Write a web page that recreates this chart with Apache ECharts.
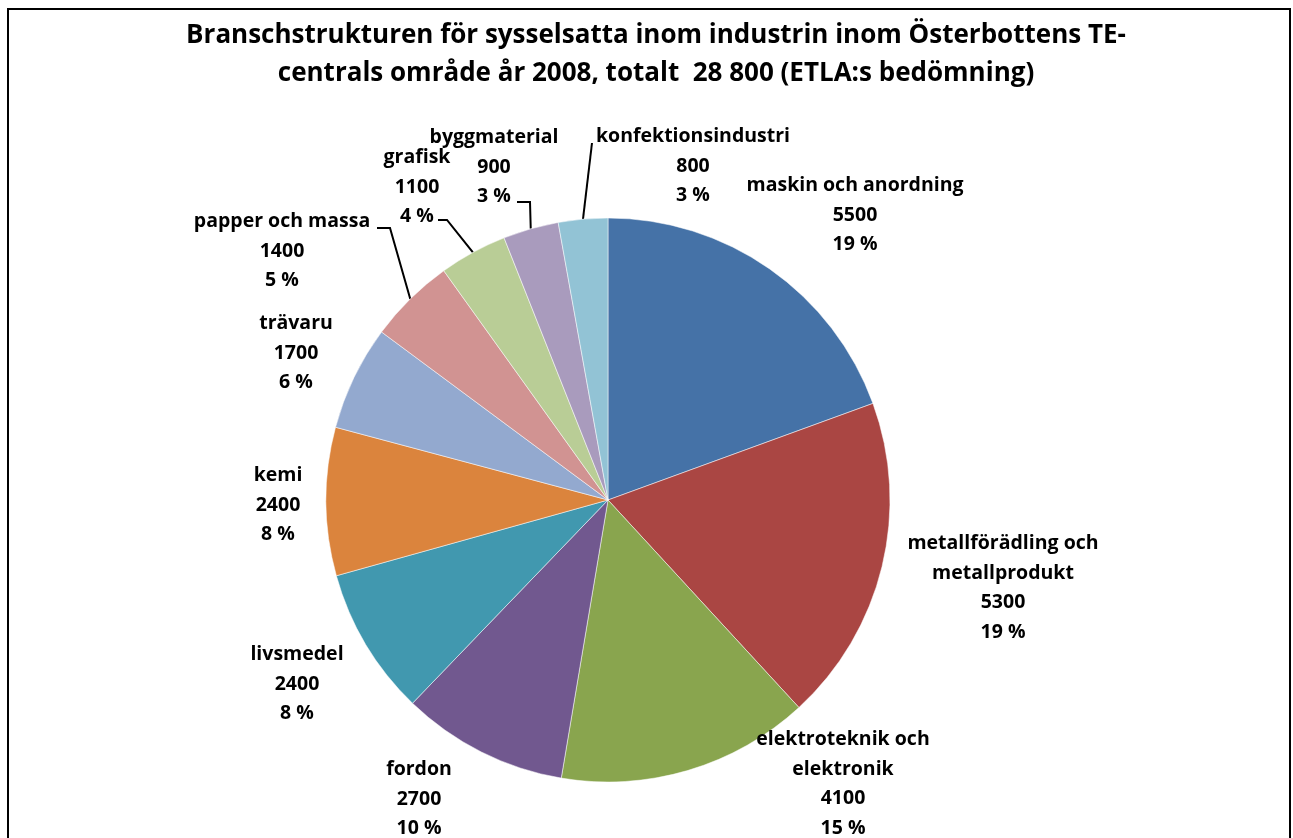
<!DOCTYPE html>
<html>
<head>
<meta charset="utf-8">
<script src="https://cdn.jsdelivr.net/npm/echarts@6/dist/echarts.min.js"></script>
<style>
  html, body { margin: 0; padding: 0; background: #fff; overflow: hidden; }
  #chart { width: 1293px; height: 838px; }
</style>
</head>
<body>
<div id="chart"></div>
<script>
// data
var branches = ['maskin och anordning', 'metallförädling och\nmetallprodukt', 'elektroteknik och\nelektronik',
  'fordon', 'livsmedel', 'kemi', 'trävaru', 'papper och massa', 'grafisk', 'byggmaterial', 'konfektionsindustri'];
var employed = [5500, 5300, 4100, 2700, 2400, 2400, 1700, 1400, 1100, 900, 800];
var shareText = ['19 %', '19 %', '15 %', '10 %', '8 %', '8 %', '6 %', '5 %', '4 %', '3 %', '3 %'];

var colors = ['#4572A7', '#AA4643', '#89A54E', '#71588F', '#4198AF', '#DB843D',
  '#93A9CF', '#D19392', '#B9CD96', '#A99BBD', '#92C3D5'];

// where each label block is centred (layout only)
var labelSpots = [[855, 215], [1003, 588], [843, 784], [419, 799], [297, 684], [278, 505],
  [296, 353], [282, 251], [417, 187], [494, 167], [693, 166]];
// leader line start + elbow for the small slices
var leaders = {
  7: [[377, 228], [390, 228]],
  8: [[438, 220], [447, 220]],
  9: [[517, 202], [530, 202]],
  10: [[592, 143], [592, 143]]
};

var chart = echarts.init(document.getElementById('chart'));

var pieData = [];
for (var i = 0; i < branches.length; i++) {
  pieData.push({
    name: branches[i],
    value: employed[i],
    itemStyle: { color: colors[i] },
    labelLine: { show: !!leaders[i] }
  });
}

var option = {
  animation: false,
  graphic: [{
    type: 'rect',
    shape: { x: 8, y: 9, width: 1282, height: 900 },
    style: { fill: 'none', stroke: '#000', lineWidth: 2 },
    z: -10
  }],
  title: {
    text: 'Branschstrukturen för sysselsatta inom industrin inom Österbottens TE-\ncentrals område år 2008, totalt  28 800 (ETLA:s bedömning)',
    left: 651,
    textAlign: 'center',
    top: 12,
    textStyle: {
      fontFamily: 'Open Sans',
      fontWeight: 'bold',
      fontSize: 26,
      lineHeight: 38,
      color: '#000'
    }
  },
  series: [{
    type: 'pie',
    center: [608, 500],
    radius: 282,
    startAngle: 90,
    clockwise: true,
    data: pieData,
    itemStyle: { borderColor: '#fff', borderWidth: 0.5 },
    label: {
      show: true,
      position: 'outside',
      fontFamily: 'Open Sans',
      fontWeight: 'bold',
      fontSize: 19.5,
      lineHeight: 29.5,
      color: '#000',
      formatter: function (p) {
        return p.name + '\n' + p.value + '\n' + shareText[p.dataIndex];
      }
    },
    labelLine: {
      show: true,
      length: 10,
      length2: 10,
      lineStyle: { color: '#000', width: 2 }
    },
    labelLayout: function (params) {
      var idx = params.dataIndex;
      var spot = labelSpots[idx];
      var res = {
        x: spot[0],
        y: spot[1],
        align: 'center',
        verticalAlign: 'middle',
        hideOverlap: false
      };
      if (leaders[idx] && params.labelLinePoints) {
        var edge = params.labelLinePoints[0];
        res.labelLinePoints = [leaders[idx][0], leaders[idx][1], edge];
      }
      return res;
    }
  }]
};

chart.setOption(option);
</script>
</body>
</html>
